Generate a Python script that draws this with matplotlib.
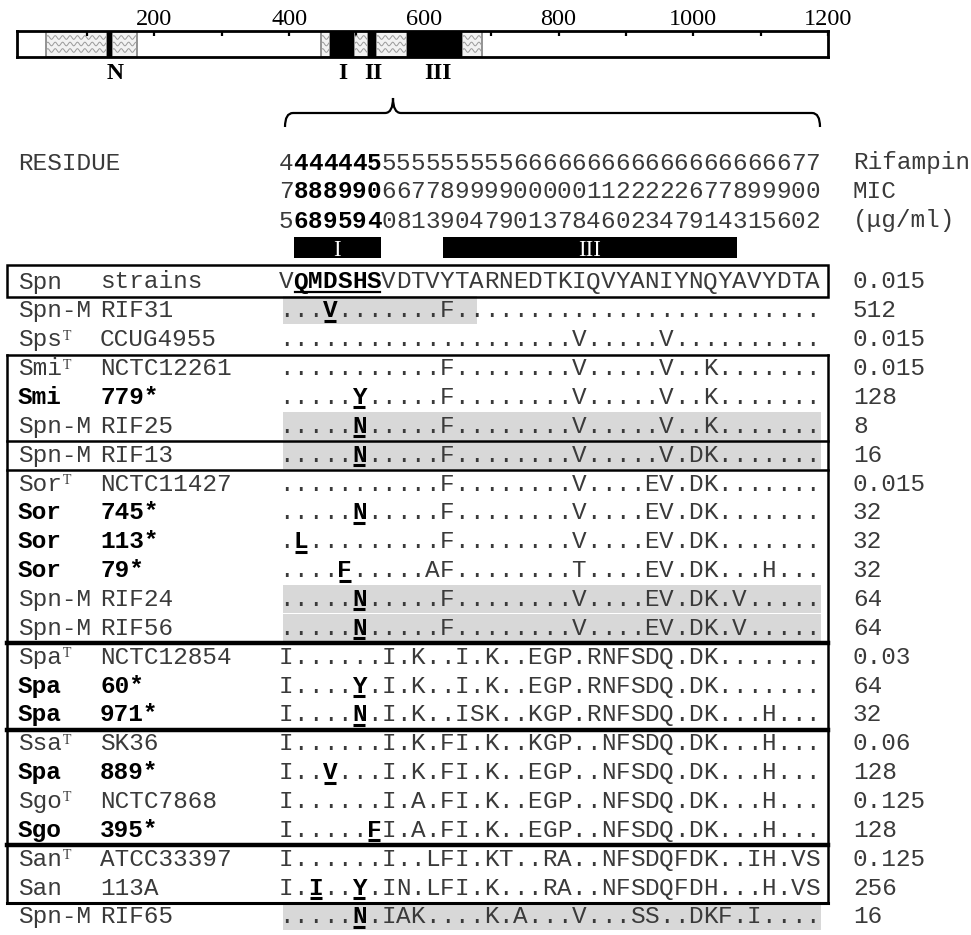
import numpy as np
import matplotlib
matplotlib.use("Agg")
import matplotlib.pyplot as plt
from matplotlib.patches import Rectangle, PathPatch
from matplotlib.path import Path

# ------------------------------------------------------------------ data
ref_seq = "VQMDSHSVDTVYTARNEDTKIQVYANIYNQYAVYDTA"
residue_hundreds = "4444445555555555666666666666666666677"
residue_tens = "7888990667789999000001122222677899900"
residue_units = "5689594081390479013784602347914315602"
cluster_bold_cols = [2, 3, 4, 5, 6, 7]

species = ["Spn", "Spn-M", "Sps", "Smi", "Smi", "Spn-M", "Spn-M", "Sor", "Sor",
           "Sor", "Sor", "Spn-M", "Spn-M", "Spa", "Spa", "Spa", "Ssa", "Spa",
           "Sgo", "Sgo", "San", "San", "Spn-M"]
strains = ["strains", "RIF31", "CCUG4955", "NCTC12261", "779*", "RIF25", "RIF13",
           "NCTC11427", "745*", "113*", "79*", "RIF24", "RIF56", "NCTC12854",
           "60*", "971*", "SK36", "889*", "NCTC7868", "395*", "ATCC33397",
           "113A", "RIF65"]
type_strain = [False, False, True, True, False, False, False, True, False, False,
               False, False, False, True, False, False, True, False, True, False,
               True, False, False]
bold_label = [False, False, False, False, True, False, False, False, True, True,
              True, False, False, False, True, True, False, True, False, True,
              False, False, False]
sequences = [
    "VQMDSHSVDTVYTARNEDTKIQVYANIYNQYAVYDTA",
    "...V.......F.........................",
    "....................V.....V..........",
    "...........F........V.....V..K.......",
    ".....Y.....F........V.....V..K.......",
    ".....N.....F........V.....V..K.......",
    ".....N.....F........V.....V.DK.......",
    "...........F........V....EV.DK.......",
    ".....N.....F........V....EV.DK.......",
    ".L.........F........V....EV.DK.......",
    "....F.....AF........T....EV.DK...H...",
    ".....N.....F........V....EV.DK.V.....",
    ".....N.....F........V....EV.DK.V.....",
    "I......I.K..I.K..EGP.RNFSDQ.DK.......",
    "I....Y.I.K..I.K..EGP.RNFSDQ.DK.......",
    "I....N.I.K..ISK..KGP.RNFSDQ.DK...H...",
    "I......I.K.FI.K..KGP..NFSDQ.DK...H...",
    "I..V...I.K.FI.K..EGP..NFSDQ.DK...H...",
    "I......I.A.FI.K..EGP..NFSDQ.DK...H...",
    "I.....FI.A.FI.K..EGP..NFSDQ.DK...H...",
    "I......I..LFI.KT..RA..NFSDQFDK..IH.VS",
    "I.I..Y.IN.LFI.K...RA..NFSDQFDH...H.VS",
    ".....N.IAK....K.A...V...SS..DKF.I....",
]
mutation_cols = {1: [4], 4: [6], 5: [6], 6: [6], 8: [6], 9: [2], 10: [5],
                 11: [6], 12: [6], 14: [6], 15: [6], 17: [4], 19: [7],
                 21: [3, 6], 22: [6]}
mic = ["0.015", "512", "0.015", "0.015", "128", "8", "16", "0.015", "32", "32",
       "32", "64", "64", "0.03", "64", "32", "0.06", "128", "0.125", "128",
       "0.125", "256", "16"]
# Spn-M (laboratory mutant) rows are shaded: row -> shaded column span
shaded_rows = {1: 13.55, 5: 37.1, 6: 37.1, 11: 37.1, 12: 37.1, 22: 37.1}
# groups boxed together (first row, last row)
groups = [(3, 5), (6, 6), (7, 12), (13, 15), (16, 19), (20, 21)]

# protein map (residue numbers)
map_hatched = [(39, 130), (137, 174), (447, 461), (497, 517), (529, 575), (657, 687)]
map_black = [(130, 137), (461, 497), (517, 529), (575, 657)]
map_labels = ["N", "I", "II", "III"]
map_label_pos = [141, 479, 525, 621]
ruler_major = [200, 400, 600, 800, 1000, 1200]
ruler_minor = [100, 300, 500, 700, 900, 1100]
box_I_cols = (2, 7)
box_III_cols = (12.2, 31.3)

# ------------------------------------------------------------------ layout
W, H, DPI = 971, 935, 100
MONO = "Liberation Mono"
SERIF = "Liberation Serif"
CW = 14.62                       # character pitch in px
X0 = 279.0                       # left edge of column 1
FS = CW / 0.6 * 72 / DPI         # monospace font size (pt)
Y0, DY = 281.0, 28.86            # row centres
GRAY = "#3a3a3a"


def xc(k):
    return X0 + (k - 0.5) * CW


def yc(i):
    return Y0 + DY * i


def yb(i):  # boundary above row i
    return yc(i) - DY / 2 + 1.5


fig = plt.figure(figsize=(W / DPI, H / DPI), dpi=DPI)
ax = fig.add_axes([0, 0, 1, 1])
ax.set_xlim(0, W)
ax.set_ylim(H, 0)
ax.axis("off")

# ---------------- header
hdr_y = [162, 191, 220]
for r, s in enumerate([residue_hundreds, residue_tens, residue_units]):
    for k, ch in enumerate(s, start=1):
        b = k in cluster_bold_cols
        ax.text(xc(k), hdr_y[r] + 7.5, ch, family=MONO, size=FS, ha="center",
                va="baseline", color="black" if b else GRAY,
                weight="bold" if b else "normal")
ax.text(18, hdr_y[0] + 7.5, "RESIDUE", family=MONO, size=FS, va="baseline", color=GRAY)
for txt, yy in zip(["Rifampin", "MIC", "(\u03bcg/ml)"], hdr_y):
    ax.text(853, yy + 7.5, txt, family=MONO, size=FS, va="baseline", color=GRAY)

for (c0, c1), lab in zip([box_I_cols, box_III_cols], ["I", "III"]):
    x0 = X0 + (c0 - 1) * CW
    x1 = X0 + c1 * CW
    ax.add_patch(Rectangle((x0, 237), x1 - x0, 21, fc="black", ec="none"))
    ax.text((x0 + x1) / 2, 255.5, lab, family=SERIF, size=16.5, color="white",
            ha="center", va="baseline")

# ---------------- shading
for r, cend in shaded_rows.items():
    ax.add_patch(Rectangle((X0 + 4, yc(r) - 13.5), (cend) * CW - 4, 28,
                           fc="#d8d8d8", ec="none", zorder=0))

# ---------------- rows
for i, seq in enumerate(sequences):
    base = yc(i) + 7.5
    bl = bold_label[i]
    col = "black" if bl else GRAY
    w = "bold" if bl else "normal"
    ax.text(18, base, species[i], family=MONO, size=FS, va="baseline",
            color=col, weight=w)
    if type_strain[i]:
        ax.text(18 + len(species[i]) * CW + 1, yc(i) + 1, "T", family=SERIF,
                size=10, va="baseline", color=GRAY)
    ax.text(100, base, strains[i], family=MONO, size=FS, va="baseline",
            color=col, weight=w)
    muts = mutation_cols.get(i, [])
    for k, ch in enumerate(seq, start=1):
        b = (i == 0 and k in cluster_bold_cols) or k in muts
        ax.text(xc(k), base, ch, family=MONO, size=FS, ha="center",
                va="baseline", color="black" if b else GRAY,
                weight="bold" if b else "normal")
        if k in muts:
            ax.plot([xc(k) - 6, xc(k) + 6], [base + 3.5, base + 3.5],
                    color="black", lw=2.2, solid_capstyle="butt")
    if i == 0:
        ax.plot([X0 + (cluster_bold_cols[0] - 1) * CW + 1,
                 X0 + cluster_bold_cols[-1] * CW - 1],
                [base + 3.5, base + 3.5], color="black", lw=1.6)
    ax.text(853, base, mic[i], family=MONO, size=FS, va="baseline", color=GRAY)

# ---------------- boxes
XL, XR = 7, 828
ax.add_patch(Rectangle((XL, yc(0) - 16), XR - XL, yb(1) - (yc(0) - 16),
                       fc="none", ec="black", lw=1.8))
thick_after = {12, 15, 19}
for g0, g1 in groups:
    ax.plot([XL, XR], [yb(g0), yb(g0)], color="black",
            lw=3.2 if (g0 - 1) in thick_after else 1.8)
ax.plot([XL, XR], [yb(groups[-1][1] + 1)] * 2, color="black", lw=2.2)
for xx in (XL, XR):
    ax.plot([xx, xx], [yb(groups[0][0]), yb(groups[-1][1] + 1)], color="black", lw=1.8)

# ---------------- brace
bx0, bx1, bxm = 285, 820, 393
ytop, yend, ypk = 113, 127, 98
verts = [(bx0, yend), (bx0, ytop), (bx0 + 8, ytop), (bxm - 8, ytop),
         (bxm, ytop), (bxm, ypk), (bxm, ytop), (bxm + 8, ytop),
         (bx1 - 8, ytop), (bx1, ytop), (bx1, yend)]
codes = [Path.MOVETO, Path.CURVE3, Path.CURVE3, Path.LINETO, Path.CURVE3,
         Path.CURVE3, Path.CURVE3, Path.CURVE3, Path.LINETO, Path.CURVE3,
         Path.CURVE3]
ax.add_patch(PathPatch(Path(verts, codes), fc="none", ec="black", lw=1.6))

# ---------------- protein map
mx0, mx1, my0, my1 = 17, 828, 31, 57
axm = fig.add_axes([mx0 / W, 1 - my1 / H, (mx1 - mx0) / W, (my1 - my0) / H])
axm.set_xlim(-4, 1200)
axm.set_ylim(0, 1)
axm.set_yticks([])
for a, b in map_hatched:
    axm.add_patch(Rectangle((a, 0), b - a, 1, fc="#f2f2f2", ec="#808080", lw=1.2))
    xs = np.linspace(a, b, 200)
    for yy in (0.25, 0.5, 0.75):
        ln, = axm.plot(xs, yy + 0.07 * np.sin((xs - a) * 2 * np.pi / 11),
                       color="#9a9a9a", lw=0.7)
        ln.set_clip_path(Rectangle((a, 0), b - a, 1, transform=axm.transData))
for a, b in map_black:
    axm.add_patch(Rectangle((a, 0), b - a, 1, fc="black", ec="none"))
for s in axm.spines.values():
    s.set_linewidth(2.0)
axm.xaxis.tick_top()
axm.set_xticks(ruler_major)
axm.set_xticklabels([str(v) for v in ruler_major], family=SERIF, fontsize=17.5)
axm.set_xticks(ruler_minor, minor=True)
axm.tick_params(axis="x", which="both", direction="in", length=3.5, width=1.6, pad=1)
for lab, pos in zip(map_labels, map_label_pos):
    axm.text(pos, -0.65, lab, transform=axm.get_xaxis_transform(), family=SERIF,
             weight="bold", size=17, ha="center", va="center", clip_on=False)

fig.savefig("out.png", dpi=DPI)
